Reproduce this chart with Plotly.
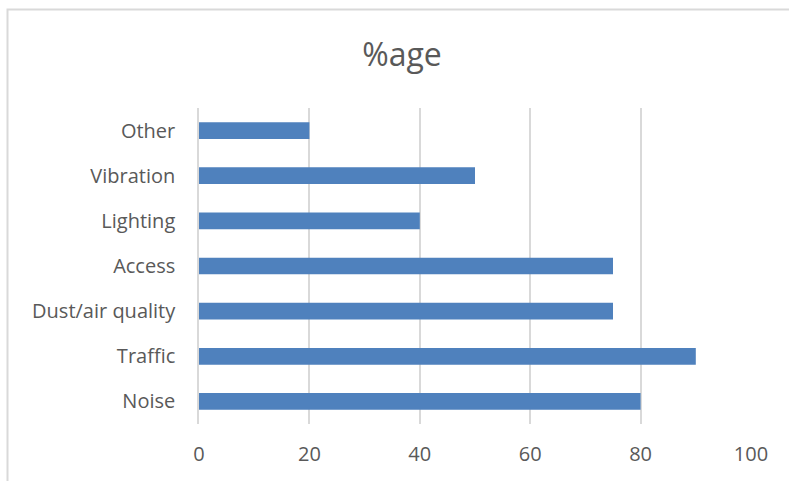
import plotly.graph_objects as go

categories = ["Noise", "Traffic", "Dust/air quality", "Access", "Lighting", "Vibration", "Other"]
values = [80, 90, 75, 75, 40, 50, 20]
x_ticks = [0, 20, 40, 60, 80, 100]
title_text = "%age"

W, H = 789, 481
L, R, T, B = 199, 38, 108, 57
pw, ph = W - L - R, H - T - B

def px_to_paper_x(px):
    return (px - L) / pw

def px_to_paper_y(py):
    return (H - B - py) / ph

fig = go.Figure(go.Bar(
    y=categories, x=values, orientation="h",
    marker=dict(color="#4F81BD", line=dict(width=0)),
))

font_family = "Open Sans, Lato, sans-serif"
fig.update_layout(
    width=W, height=H,
    margin=dict(l=L, r=R, t=T, b=B, pad=0),
    paper_bgcolor="white", plot_bgcolor="white",
    bargap=0.63,
    showlegend=False,
    title=dict(text=title_text, x=(402) / W, xanchor="center", y=1 - 55 / H, yanchor="middle",
               font=dict(family=font_family, size=32, color="#595959")),
    font=dict(family=font_family, color="#595959", size=20),
    xaxis=dict(range=[0, 100], tickvals=x_ticks, showgrid=True, gridcolor="#D9D9D9", gridwidth=1.5,
               zeroline=False, showline=False, ticks="", ticklabelstandoff=16,
               tickfont=dict(size=20, color="#595959"), fixedrange=True),
    yaxis=dict(categoryorder="array", categoryarray=categories, showgrid=False, zeroline=False,
               showline=True, linecolor="#D9D9D9", linewidth=1.5, ticks="", ticklabelstandoff=18,
               tickfont=dict(size=20, color="#595959")),
    shapes=[dict(type="rect", xref="paper", yref="paper",
                 x0=px_to_paper_x(7.5), x1=px_to_paper_x(W + 20),
                 y0=px_to_paper_y(H + 20), y1=px_to_paper_y(9.5),
                 line=dict(color="#D9D9D9", width=2), fillcolor="rgba(0,0,0,0)", layer="below")],
)

fig.write_html("out.html")
